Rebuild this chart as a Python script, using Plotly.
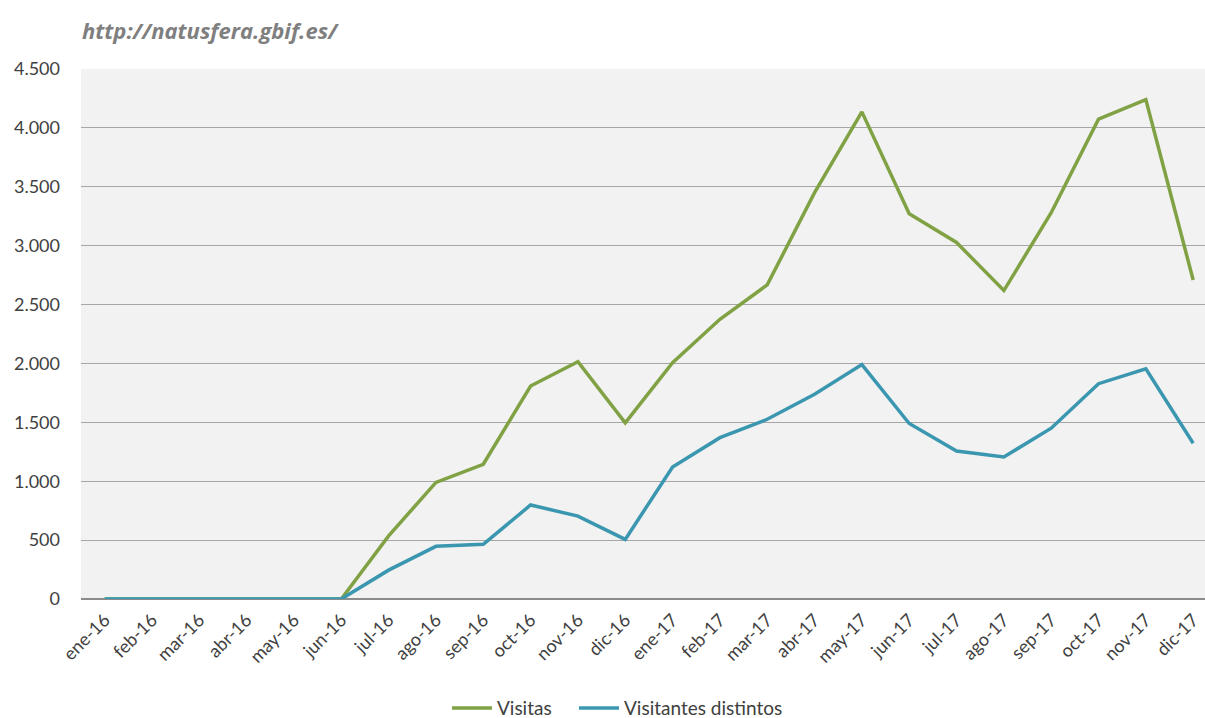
import plotly.graph_objects as go

meses = ["ene-16", "feb-16", "mar-16", "abr-16", "may-16", "jun-16", "jul-16", "ago-16",
         "sep-16", "oct-16", "nov-16", "dic-16", "ene-17", "feb-17", "mar-17", "abr-17",
         "may-17", "jun-17", "jul-17", "ago-17", "sep-17", "oct-17", "nov-17", "dic-17"]
visitas = [0, 0, 0, 0, 0, 0, 536, 990, 1144, 1808, 2014, 1495,
           2006, 2375, 2667, 3450, 4136, 3271, 3027, 2619, 3280, 4074, 4240, 2709]
visitantes = [0, 0, 0, 0, 0, 0, 245, 447, 464, 798, 704, 506,
              1121, 1370, 1526, 1738, 1990, 1490, 1257, 1206, 1450, 1828, 1955, 1322]
y_ticks = [0, 500, 1000, 1500, 2000, 2500, 3000, 3500, 4000, 4500]

GREEN = "#80A244"
BLUE = "#3B97B0"
FONT = "Lato"

fig = go.Figure()
fig.add_trace(go.Scatter(x=list(range(len(meses))), y=visitas, mode="lines", name="Visitas",
                         line=dict(color=GREEN, width=3.5), legend="legend"))
fig.add_trace(go.Scatter(x=list(range(len(meses))), y=visitantes, mode="lines",
                         name="Visitantes distintos",
                         line=dict(color=BLUE, width=3.5), legend="legend2"))

legend_common = dict(orientation="h", xanchor="left", y=-0.206, yanchor="middle",
                     font=dict(family=FONT, size=19, color="#404040"),
                     itemwidth=40, bgcolor="rgba(0,0,0,0)")

fig.update_layout(
    width=1205, height=718,
    margin=dict(l=81, r=0, t=69, b=119, autoexpand=False),
    paper_bgcolor="white",
    plot_bgcolor="#F2F2F2",
    separators=",.",
    font=dict(family=FONT, size=17, color="#404040"),
    showlegend=True,
    legend=dict(x=0.3256, **legend_common),
    legend2=dict(x=0.4386, **legend_common),
    annotations=[dict(text="<b><i>http://natusfera.gbif.es/</i></b>", xref="paper", yref="paper",
                      x=-0.001, y=1.0, xanchor="left", yanchor="bottom", yshift=22,
                      showarrow=False, font=dict(family="Open Sans", size=22, color="#7F7F7F"))],
)
fig.update_xaxes(
    tickmode="array", tickvals=list(range(len(meses))), ticktext=meses,
    range=[-0.5, 23.25], tickangle=-45, showgrid=False, zeroline=False,
    showline=False, ticks="", ticklabelstandoff=6, automargin=False,
    tickfont=dict(family=FONT, size=18, color="#404040"), fixedrange=True,
)
fig.update_yaxes(
    range=[0, 4500], tickvals=y_ticks, tickformat=",d",
    showgrid=True, gridcolor="#A6A6A6", gridwidth=1,
    zeroline=True, zerolinecolor="#8C8C8C", zerolinewidth=1.5,
    showline=False, ticks="", ticklabelstandoff=20, automargin=False,
    tickfont=dict(family=FONT, size=18, color="#404040"),
)

fig.write_html("out.html", config={"displayModeBar": False},
               post_script="document.body.style.margin='0';")
